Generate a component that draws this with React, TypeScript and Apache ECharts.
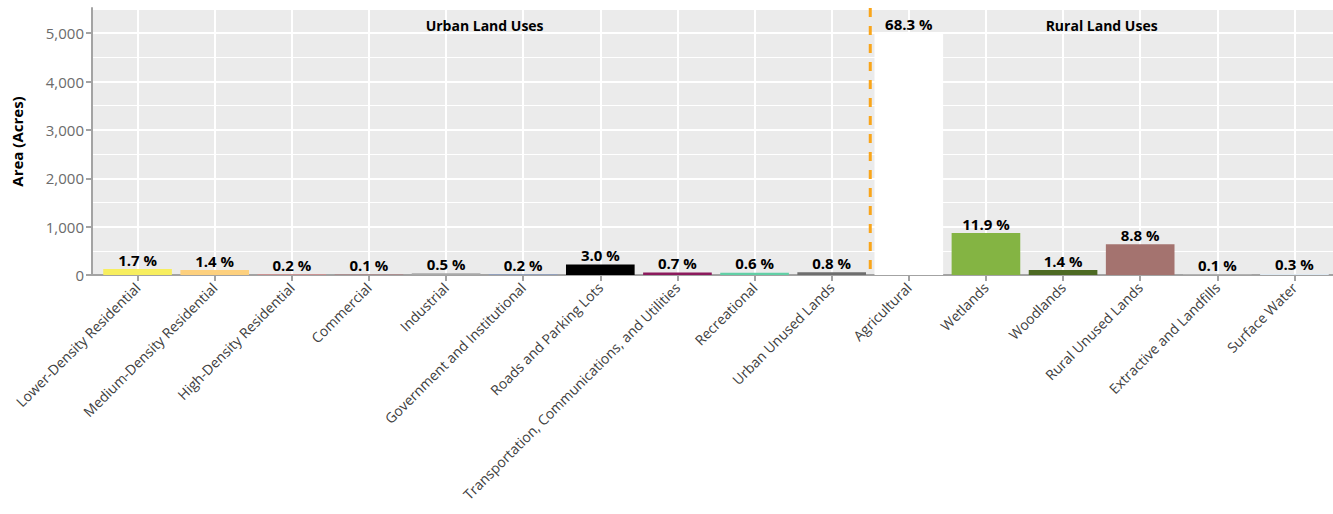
import React, { useEffect, useRef } from "react";
import * as echarts from "echarts";

const categories = [
  "Lower-Density Residential",
  "Medium-Density Residential",
  "High-Density Residential",
  "Commercial",
  "Industrial",
  "Government and Institutional",
  "Roads and Parking Lots",
  "Transportation, Communications, and Utilities",
  "Recreational",
  "Urban Unused Lands",
  "Agricultural",
  "Wetlands",
  "Woodlands",
  "Rural Unused Lands",
  "Extractive and Landfills",
  "Surface Water",
];

const areaAcres = [124, 102, 15, 7, 37, 15, 219, 51, 44, 58, 4990, 866, 102, 636, 7, 22];

const percentLabels = [
  "1.7 %", "1.4 %", "0.2 %", "0.1 %", "0.5 %", "0.2 %", "3.0 %", "0.7 %", "0.6 %", "0.8 %",
  "68.3 %", "11.9 %", "1.4 %", "8.8 %", "0.1 %", "0.3 %",
];

const barColors = [
  "#f7ee5f", "#fdd07e", "#d98c8c", "#c4545a", "#a9a9a9", "#8c9fc4", "#000000", "#8b1a5c",
  "#62cfa6", "#6e6e6e", "#ffffff", "#84b443", "#4d6a23", "#a4736f", "#dcdcdc", "#dfeaf3",
];

const groupTitles = ["Urban Land Uses", "Rural Land Uses"];
const lastUrbanCategory = "Urban Unused Lands";
const firstRuralCategory = "Agricultural";

const yTickInterval = 1000;
const yMax = 5520;

const FONT = "'Open Sans', 'Noto Sans', sans-serif";

export default function App() {
  const ref = useRef<HTMLDivElement>(null);

  useEffect(() => {
    if (!ref.current) return;
    const chart = echarts.init(ref.current, undefined, { renderer: "svg" });
    const axisGray = "#a3a3a3";
    chart.setOption({
      animation: false,
      textStyle: { fontFamily: FONT },
      grid: [
        { left: 92, top: 8, right: -4, bottom: 239, show: true, backgroundColor: "#ebebeb", borderWidth: 0 },
        { left: 99, top: 8, right: -4, bottom: 239 },
      ],
      xAxis: [
        {
          gridIndex: 0,
          type: "value",
          min: 0,
          max: 1,
          axisLine: { show: true, lineStyle: { color: axisGray, width: 2 } },
          axisTick: { show: false },
          axisLabel: { show: false },
          splitLine: { show: false },
        },
        {
          gridIndex: 1,
          type: "category",
          data: categories,
          axisLine: { show: false },
          axisTick: { show: true, alignWithLabel: true, length: 6, lineStyle: { color: axisGray, width: 2 } },
          axisLabel: {
            interval: 0,
            rotate: 45,
            fontSize: 14,
            color: "#404040",
            margin: 10,
            fontFamily: FONT,
          },
          splitLine: { show: true, alignWithLabel: true, lineStyle: { color: "#ffffff", width: 2 } },
        },
      ],
      yAxis: [
        {
          gridIndex: 0,
          type: "value",
          min: 0,
          max: yMax,
          interval: yTickInterval,
          name: "Area (Acres)",
          nameLocation: "middle",
          nameGap: 68,
          nameTextStyle: { fontWeight: "bold", fontSize: 15, color: "#000", fontFamily: FONT },
          axisLine: { show: true, lineStyle: { color: axisGray, width: 2 } },
          axisTick: { show: true, length: 6, lineStyle: { color: axisGray, width: 2 } },
          axisLabel: {
            fontSize: 15,
            color: "#6b6b6b",
            margin: 8,
            showMaxLabel: false,
            fontFamily: FONT,
            formatter: (v: number) => v.toLocaleString("en-US"),
          },
          splitLine: { show: true, lineStyle: { color: "#ffffff", width: 2 } },
          minorTick: { show: false, splitNumber: 2 },
          minorSplitLine: { show: true, lineStyle: { color: "#ffffff", width: 1 } },
        },
        {
          gridIndex: 1,
          type: "value",
          min: 0,
          max: yMax,
          interval: yTickInterval,
          show: false,
          splitLine: { show: false },
        },
      ],
      series: [
        {
          type: "bar",
          xAxisIndex: 1,
          yAxisIndex: 1,
          barCategoryGap: "11%",
          data: areaAcres.map((v, i) => ({ value: v, itemStyle: { color: barColors[i] } })),
          label: {
            show: true,
            position: "top",
            distance: 2,
            fontSize: 15,
            fontWeight: "bold",
            color: "#000",
            fontFamily: FONT,
            formatter: (p: any) => percentLabels[p.dataIndex],
          },
        },
      ],
    });

    // Divider between urban and rural groups, placed through the category axis.
    const xa = chart.convertToPixel({ xAxisIndex: 1 }, lastUrbanCategory) as number;
    const xb = chart.convertToPixel({ xAxisIndex: 1 }, firstRuralCategory) as number;
    const xDiv = (xa + xb) / 2;
    const yTop = chart.convertToPixel({ yAxisIndex: 1 }, yMax) as number;
    const yBottom = chart.convertToPixel({ yAxisIndex: 1 }, 0) as number;
    const urbanCenter =
      ((chart.convertToPixel({ xAxisIndex: 1 }, categories[0]) as number) + xa) / 2;
    const ruralCenter =
      (xb + (chart.convertToPixel({ xAxisIndex: 1 }, categories[categories.length - 1]) as number)) / 2;

    chart.setOption({
      graphic: [
        {
          type: "line",
          z: 50,
          shape: { x1: xDiv, y1: yTop, x2: xDiv, y2: yBottom },
          style: { stroke: "#f9a51a", lineWidth: 3, lineDash: [9, 9] },
        },
        {
          type: "text",
          x: urbanCenter,
          y: 25,
          z: 50,
          style: {
            text: groupTitles[0],
            font: `bold 14px ${FONT}`,
            fill: "#000",
            align: "center",
            verticalAlign: "middle",
          },
        },
        {
          type: "text",
          x: ruralCenter,
          y: 25,
          z: 50,
          style: {
            text: groupTitles[1],
            font: `bold 14px ${FONT}`,
            fill: "#000",
            align: "center",
            verticalAlign: "middle",
          },
        },
      ],
    });
    return () => chart.dispose();
  }, []);

  return (
    <div
      ref={ref}
      style={{ position: "fixed", left: 0, top: 0, width: 1333, height: 514, background: "#fff" }}
    />
  );
}
